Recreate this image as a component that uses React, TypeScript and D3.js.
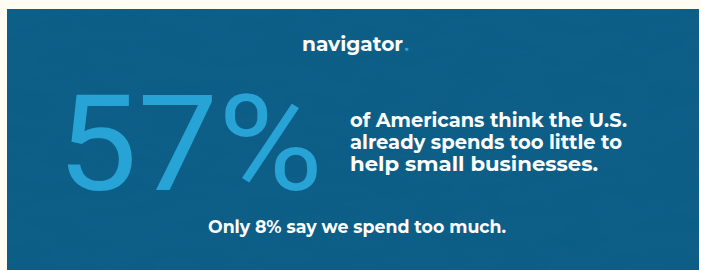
import React from "react";
import * as d3 from "d3";

const headlineValue = [57];
const secondaryValue = [8];
const bodyLines = [
  "of Americans think the U.S.",
  "already spends too little to",
  "help small businesses.",
];
const brandName = ["navigator"];

const W = 701;
const H = 270;

export default function App() {
  const fmt = d3.format("d");
  const lineY = d3.scaleLinear().domain([0, 1]).range([127, 149]);
  const lineWidths = [277, 272, 248];
  return (
    <svg
      width={W}
      height={H}
      style={{ position: "absolute", left: 0, top: 0 }}
      viewBox={`0 0 ${W} ${H}`}
    >
      <defs>
        <filter id="paper" x="0" y="0" width="100%" height="100%">
          <feTurbulence type="fractalNoise" baseFrequency="0.02 0.06" numOctaves="4" seed="3" result="n" />
          <feColorMatrix
            in="n"
            type="matrix"
            values="0 0 0 0 0  0 0 0 0 0.1  0 0 0 0 0.2  0 0 0 -1.4 0.8"
            result="m"
          />
          <feComposite in="m" in2="SourceGraphic" operator="in" />
        </filter>
      </defs>
      <rect x={0} y={0} width={W} height={H} fill="#fffdf3" />
      <rect x={7} y={9} width={692} height={261} fill="#0e5f88" />
      <rect x={7} y={9} width={692} height={261} fill="#0e5f88" filter="url(#paper)" opacity={0.35} />
      <text
        x={302}
        y={51}
        fill="#ffffff"
        fontFamily="Montserrat, 'Open Sans', sans-serif"
        fontWeight={700}
        fontSize={19}
        textLength={101}
        lengthAdjust="spacingAndGlyphs"
      >
        {brandName[0]}
      </text>
      <text x={404} y={51} fill="#2aa6d8" fontFamily="'Open Sans', sans-serif" fontWeight={700} fontSize={19}>
        .
      </text>
      <text
        x={57}
        y={190}
        fill="#27a3d6"
        fontFamily="Roboto, sans-serif"
        fontWeight={400}
        fontSize={134}
        textLength={266}
        lengthAdjust="spacingAndGlyphs"
      >
        {fmt(headlineValue[0])}%
      </text>
      {bodyLines.map((l, i) => (
        <text
          key={i}
          x={350}
          y={lineY(i)}
          fill="#ffffff"
          fontFamily="Montserrat, 'Open Sans', sans-serif"
          fontWeight={700}
          fontSize={19.5}
          textLength={lineWidths[i]}
          lengthAdjust="spacingAndGlyphs"
        >
          {l}
        </text>
      ))}
      <text
        x={208}
        y={233}
        fill="#ffffff"
        fontFamily="Montserrat, 'Open Sans', sans-serif"
        fontWeight={700}
        fontSize={17.5}
        textLength={298}
        lengthAdjust="spacingAndGlyphs"
      >
        {`Only ${fmt(secondaryValue[0])}% say we spend too much.`}
      </text>
    </svg>
  );
}
